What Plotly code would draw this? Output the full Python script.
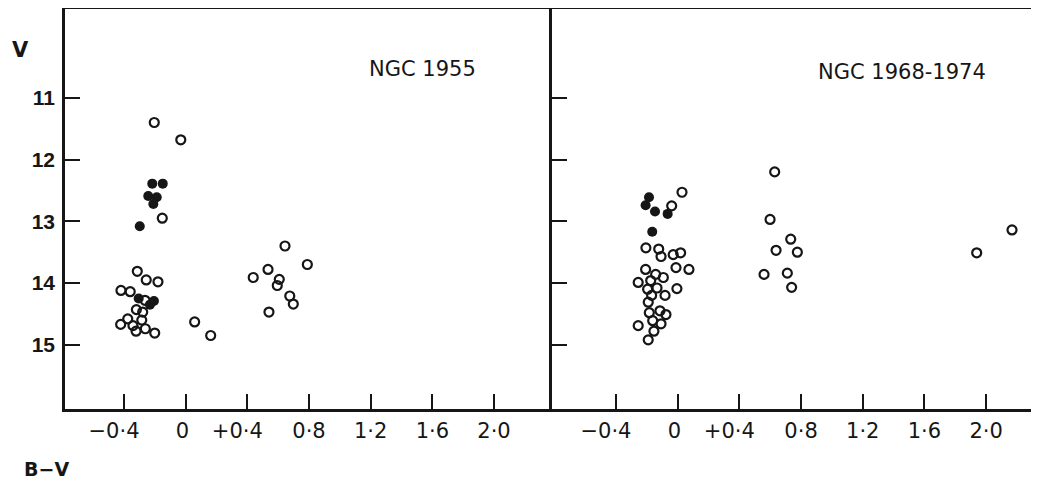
import plotly.graph_objects as go

# ---- data ----
# NGC 1955 (left panel)
l_open_bv = [-0.204, -0.032, -0.152, -0.314, -0.256, -0.18, -0.42, -0.36, -0.264, -0.32,
             -0.279, -0.376, -0.285, -0.422, -0.342, -0.262, -0.322, -0.201, 0.058, 0.162,
             0.644, 0.789, 0.438, 0.534, 0.607, 0.594, 0.675, 0.698, 0.54]
l_open_v = [11.40, 11.68, 12.95, 13.81, 13.95, 13.98, 14.12, 14.14, 14.28, 14.43,
            14.47, 14.58, 14.60, 14.67, 14.69, 14.74, 14.78, 14.81, 14.63, 14.85,
            13.40, 13.70, 13.91, 13.78, 13.94, 14.04, 14.21, 14.34, 14.47]
l_fill_bv = [-0.217, -0.149, -0.243, -0.188, -0.21, -0.298, -0.305, -0.206, -0.232]
l_fill_v = [12.39, 12.39, 12.59, 12.61, 12.72, 13.08, 14.25, 14.29, 14.35]

# NGC 1968-1974 (right panel)
r_open_bv = [0.028, -0.039, -0.206, -0.123, -0.108, -0.029, 0.019, -0.011, 0.073, -0.208,
             -0.143, -0.093, -0.256, -0.175, -0.195, -0.134, -0.005, -0.082, -0.169, -0.191,
             -0.184, -0.115, -0.076, -0.162, -0.108, -0.256, -0.154, -0.191,
             0.629, 0.599, 0.733, 0.638, 0.776, 0.56, 0.711, 0.739, 1.939, 2.168]
r_open_v = [12.53, 12.75, 13.43, 13.45, 13.57, 13.54, 13.51, 13.75, 13.78, 13.78,
            13.86, 13.91, 13.99, 13.96, 14.10, 14.08, 14.09, 14.20, 14.20, 14.31,
            14.48, 14.45, 14.51, 14.61, 14.66, 14.69, 14.78, 14.92,
            12.20, 12.97, 13.29, 13.47, 13.50, 13.86, 13.84, 14.07, 13.51, 13.14]
r_fill_bv = [-0.186, -0.208, -0.147, -0.065, -0.165]
r_fill_v = [12.61, 12.74, 12.84, 12.88, 13.17]

x_tickvals = [-0.4, 0, 0.4, 0.8, 1.2, 1.6, 2.0]
NB = "\u00a0"
x_ticktext = ["\u22120\u00b74" + NB * 3, "0" + NB, "+0\u00b74" + NB * 3, "0\u00b78",
              "1\u00b72", "1\u00b76", "2\u00b70"]
y_tickvals = [11, 12, 13, 14, 15]
y_ticktext = ["11", "12", "13", "14", "15"]
titles = ["NGC 1955", "NGC 1968-1974"]

INK = "#161616"
# the page body has an 8px margin, so the figure starts at (8, 8) in the window
OFF = 8
W, H = 1039 - OFF, 484 - OFF

fig = go.Figure()

def add_points(bv, v, filled, xa, ya):
    if filled:
        marker = dict(symbol="circle", size=10, color=INK, line=dict(width=0))
    else:
        marker = dict(symbol="circle-open", size=9, color=INK, line=dict(width=2.2, color=INK))
    fig.add_trace(go.Scatter(x=bv, y=v, mode="markers", marker=marker,
                             xaxis=xa, yaxis=ya, showlegend=False, hoverinfo="skip"))

add_points(l_open_bv, l_open_v, False, "x", "y")
add_points(l_fill_bv, l_fill_v, True, "x", "y")
add_points(r_open_bv, r_open_v, False, "x2", "y2")
add_points(r_fill_bv, r_fill_v, True, "x2", "y2")

def px(x):
    return (x - OFF) / W

def py(y):
    return 1 - (y - OFF) / H

xl0, xl1, xr1 = px(65), px(552), 1.0
yb, yt = py(409), py(9.2)

tickfont = dict(family="DejaVu Sans", size=21, color=INK)
common_x = dict(showgrid=False, zeroline=False, showline=True, linewidth=2.5, linecolor=INK,
                ticks="inside", ticklen=15, tickwidth=2, tickcolor=INK,
                tickmode="array", tickvals=x_tickvals, ticktext=x_ticktext, automargin=False,
                tickfont=tickfont, ticklabelstandoff=1, fixedrange=True)
common_y = dict(showgrid=False, zeroline=False, showline=True, linewidth=2.5, linecolor=INK,
                ticks="inside", ticklen=15, tickwidth=2, tickcolor=INK, automargin=False,
                tickmode="array", tickvals=y_tickvals, ticktext=y_ticktext, fixedrange=True)

yrange = [16.04, 9.565]
fig.update_layout(
    width=W, height=H,
    margin=dict(l=0, r=0, t=0, b=0, pad=0),
    paper_bgcolor="white", plot_bgcolor="white",
    xaxis=dict(domain=[xl0, xl1], range=[-0.783, 2.376], anchor="y", mirror=True, **common_x),
    yaxis=dict(domain=[yb, yt], range=yrange, anchor="x", mirror=False,
               tickfont=dict(family="Liberation Sans", size=21, color=INK, weight="bold"),
               ticklabelstandoff=3, **common_y),
    xaxis2=dict(domain=[xl1, xr1], range=[-0.815, 2.343], anchor="y2", mirror=True, **common_x),
    yaxis2=dict(domain=[yb, yt], range=yrange, anchor="x2", showticklabels=False,
                **common_y),
    annotations=[
        dict(text=titles[0], x=px(422), y=py(69), xref="paper", yref="paper", showarrow=False,
             xanchor="center", yanchor="middle",
             font=dict(family="DejaVu Sans", size=21, color=INK)),
        dict(text=titles[1], x=px(902), y=py(72), xref="paper", yref="paper", showarrow=False,
             xanchor="center", yanchor="middle",
             font=dict(family="DejaVu Sans", size=21, color=INK)),
        dict(text="<b>V</b>", x=px(20), y=py(50), xref="paper", yref="paper", showarrow=False,
             xanchor="center", yanchor="middle",
             font=dict(family="DejaVu Sans", size=21, color=INK)),
        dict(text="<b>B\u2212V</b>", x=px(46), y=py(469), xref="paper", yref="paper",
             showarrow=False, xanchor="center", yanchor="middle",
             font=dict(family="DejaVu Sans", size=19, color=INK)),
    ],
)

fig.write_html("out.html")
